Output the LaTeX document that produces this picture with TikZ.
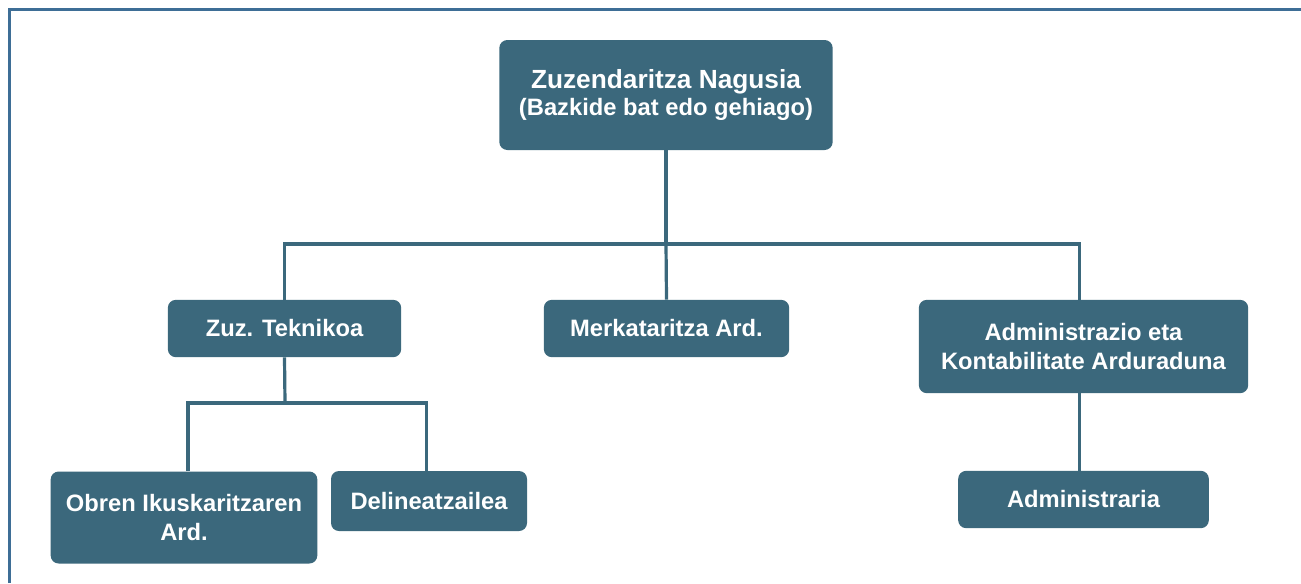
\documentclass[tikz,border=0pt]{standalone}
\usepackage{fontspec}
\setmainfont{Liberation Sans}
\usetikzlibrary{calc}

\definecolor{boxcol}{RGB}{59,104,124}
\definecolor{framecol}{RGB}{62,110,150}

\tikzset{
  box/.style={fill=boxcol,text=white,rounded corners=6pt,align=center,inner sep=0pt,
    font=\bfseries\fontsize{17.8}{21.5}\selectfont},
  link/.style={draw=boxcol,line width=2.4pt},
}

\begin{document}
\begin{tikzpicture}[x=0.75pt,y=-0.75pt]
\useasboundingbox (0,0) rectangle (1301,583);
\fill[white] (0,0) rectangle (1301,583);
\draw[framecol,line width=2.3pt] (9.5,583) -- (9.5,9.5) -- (1301,9.5);
\node[box,minimum width=250pt,minimum height=82.5pt] (dir) at (666,95)
  {{\fontsize{19.7}{22}\selectfont Zuzendaritza Nagusia}\\[-1pt](Bazkide bat edo gehiago)};
\node[box,minimum width=175pt,minimum height=43pt] (tek) at (284.5,328.5) {Zuz. Teknikoa};
\node[box,minimum width=184pt,minimum height=43pt] (merk) at (666.5,328.5) {Merkataritza Ard.};
\node[box,minimum width=247pt,minimum height=70pt] (admin) at (1083.5,346.5)
  {Administrazio eta\\Kontabilitate Arduraduna};
\node[box,minimum width=200pt,minimum height=69pt] (obren) at (184,517.5)
  {Obren Ikuskaritzaren\\Ard.};
\node[box,minimum width=147pt,minimum height=45pt] (delin) at (429,501) {Delineatzailea};
\node[box,minimum width=188pt,minimum height=43pt] (admr) at (1083.5,499.5) {Administraria};
\coordinate (j1) at (666,244);
\coordinate (j2) at (285,403);
\draw[link] (dir.south) -- (j1);
\draw[link] (tek.north) |- (j1) -| ([xshift=-3pt]admin.north);
\draw[link] (merk.north) -- (j1);
\draw[link] (tek.south) -- (j2);
\draw[link] ([xshift=3pt]obren.north) |- (j2) -| ([xshift=-2pt]delin.north);
\draw[link] ([xshift=-3pt]admin.south) -- ([xshift=-3pt]admr.north);
\end{tikzpicture}
\end{document}
